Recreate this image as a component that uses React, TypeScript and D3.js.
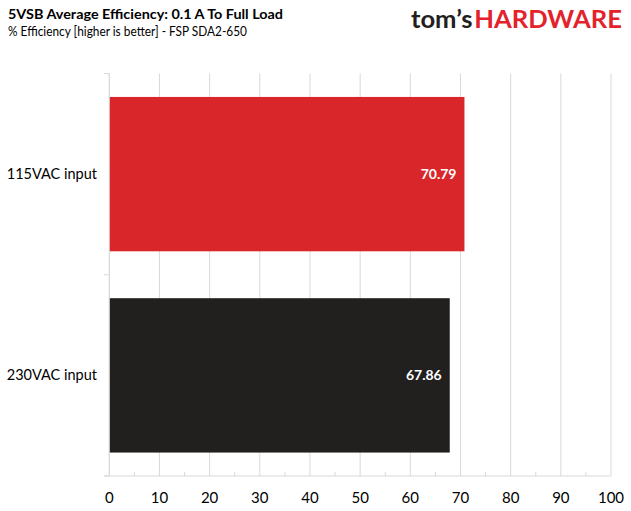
import { useEffect, useRef } from 'react';
import * as d3 from 'd3';

const categories = ['115VAC input', '230VAC input'];
const values = [70.79, 67.86];
const barColors = ['#d9262b', '#221f1f'];
const xTicks = [0, 10, 20, 30, 40, 50, 60, 70, 80, 90, 100];

const title = '5VSB Average Efficiency: 0.1 A To Full Load';
const subtitle = '% Efficiency [higher is better] - FSP SDA2-650';

export default function App() {
  const svgRef = useRef<SVGSVGElement>(null);

  useEffect(() => {
    document.body.style.margin = '0';
    if (!svgRef.current) return;
    const width = 631;
    const height = 511;
    const font = 'Lato, "Open Sans", sans-serif';

    const svg = d3.select(svgRef.current);
    svg.selectAll('*').remove();
    svg.attr('width', width).attr('height', height).attr('viewBox', `0 0 ${width} ${height}`);

    svg.append('rect').attr('width', width).attr('height', height).attr('fill', '#ffffff');

    const left = 109.3;
    const right = 611;
    const top = 73.5;
    const bottom = 476;

    const x = d3.scaleLinear().domain([0, 100]).range([left, right]);
    const y = d3
      .scaleBand()
      .domain(categories)
      .range([top, bottom])
      .paddingInner(0.233)
      .paddingOuter(0.1165);

    // Gridlines
    svg
      .append('g')
      .selectAll('line')
      .data(xTicks)
      .enter()
      .append('line')
      .attr('x1', (d) => x(d))
      .attr('x2', (d) => x(d))
      .attr('y1', top)
      .attr('y2', bottom)
      .attr('stroke', '#d9d9d9')
      .attr('stroke-width', 1);

    // Bars
    svg
      .append('g')
      .selectAll('rect')
      .data(values)
      .enter()
      .append('rect')
      .attr('x', x(0))
      .attr('y', (_, i) => y(categories[i]) || 0)
      .attr('width', (d) => x(d) - x(0))
      .attr('height', y.bandwidth())
      .attr('fill', (_, i) => barColors[i]);

    // Value labels
    svg
      .append('g')
      .selectAll('text')
      .data(values)
      .enter()
      .append('text')
      .attr('x', (d) => x(d) - 8)
      .attr('y', (_, i) => (y(categories[i]) || 0) + y.bandwidth() / 2)
      .attr('dy', '0.35em')
      .attr('text-anchor', 'end')
      .attr('fill', '#ffffff')
      .attr('font-family', font)
      .attr('font-weight', 'bold')
      .attr('font-size', '14px')
      .text((d) => d.toFixed(2));

    // X axis
    const xAxis = svg.append('g').attr('transform', `translate(0,${bottom})`);
    xAxis
      .append('line')
      .attr('x1', 104)
      .attr('x2', right)
      .attr('stroke', '#d9d9d9');
    xAxis
      .selectAll('line.minor')
      .data(d3.range(5, 100, 10))
      .enter()
      .append('line')
      .attr('class', 'minor')
      .attr('x1', (d) => x(d))
      .attr('x2', (d) => x(d))
      .attr('y1', -4)
      .attr('y2', 0)
      .attr('stroke', '#d9d9d9');
    xAxis
      .selectAll('text')
      .data(xTicks)
      .enter()
      .append('text')
      .attr('x', (d) => x(d))
      .attr('y', 22)
      .attr('dy', '0.35em')
      .attr('text-anchor', 'middle')
      .attr('fill', '#000000')
      .attr('font-family', font)
      .attr('font-size', '15px')
      .text((d) => d);

    // Y axis
    const yAxis = svg.append('g');
    yAxis
      .append('line')
      .attr('x1', left)
      .attr('x2', left)
      .attr('y1', top)
      .attr('y2', bottom)
      .attr('stroke', '#d9d9d9');
    yAxis
      .selectAll('line.tick')
      .data([top, top + y.step(), bottom])
      .enter()
      .append('line')
      .attr('class', 'tick')
      .attr('x1', 104)
      .attr('x2', left)
      .attr('y1', (d) => d)
      .attr('y2', (d) => d)
      .attr('stroke', '#d9d9d9');
    yAxis
      .selectAll('text')
      .data(categories)
      .enter()
      .append('text')
      .attr('x', 97)
      .attr('y', (d) => (y(d) || 0) + y.bandwidth() / 2)
      .attr('dy', '0.35em')
      .attr('text-anchor', 'end')
      .attr('fill', '#000000')
      .attr('font-family', font)
      .attr('font-size', '14.5px')
      .text((d) => d);

    // Titles
    svg
      .append('text')
      .attr('x', 8)
      .attr('y', 18.5)
      .attr('font-family', font)
      .attr('font-weight', 'bold')
      .attr('font-size', '14px')
      .attr('textLength', 275)
      .attr('lengthAdjust', 'spacingAndGlyphs')
      .attr('fill', '#000000')
      .text(title);
    svg
      .append('text')
      .attr('x', 8)
      .attr('y', 35.5)
      .attr('font-family', font)
      .attr('font-size', '14px')
      .attr('textLength', 239)
      .attr('lengthAdjust', 'spacingAndGlyphs')
      .attr('fill', '#000000')
      .text(subtitle);

    // Logo
    const logo = svg
      .append('text')
      .attr('x', 411)
      .attr('y', 28)
      .attr('font-family', font)
      .attr('font-weight', 'bold')
      .attr('font-size', '24px')
      .attr('textLength', 211)
      .attr('lengthAdjust', 'spacingAndGlyphs');
    logo.append('tspan').attr('fill', '#231f20').text('tom’s');
    logo.append('tspan').attr('fill', '#e3222b').attr('dx', 2).text('HARDWARE');
  }, []);

  return <svg ref={svgRef} style={{ display: 'block' }} />;
}
